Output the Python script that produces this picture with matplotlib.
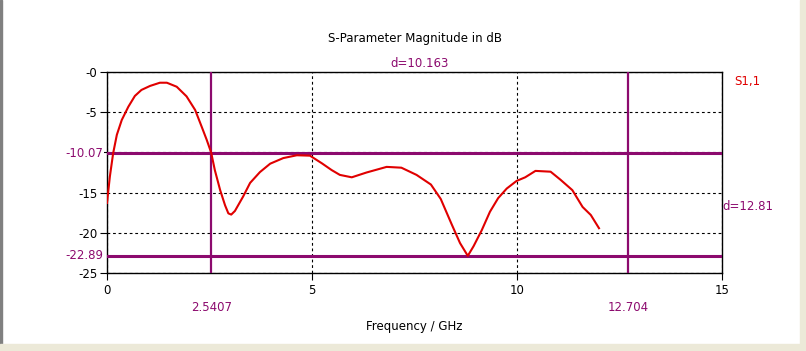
import matplotlib.pyplot as plt
from matplotlib.patches import Rectangle

# S1,1 magnitude
freq = [0.0, 0.07, 0.15, 0.24, 0.36, 0.52, 0.68, 0.84, 1.05, 1.29, 1.46, 1.70, 1.94,
        2.15, 2.31, 2.43, 2.54, 2.63, 2.76, 2.88, 2.96, 3.03, 3.12, 3.32, 3.49, 3.73, 3.98,
        4.30, 4.63, 4.95, 5.24, 5.48, 5.68, 5.97, 6.33, 6.82, 7.18, 7.55, 7.90, 8.14,
        8.41, 8.61, 8.80, 8.94, 9.14, 9.34, 9.54, 9.75, 9.99, 10.2, 10.45, 10.82,
        11.06, 11.35, 11.6, 11.8, 12.0]
s11 = [-16.3, -13.0, -10.1, -7.8, -5.95, -4.3, -2.95, -2.2, -1.7, -1.3, -1.3, -1.8, -3.0,
       -4.7, -6.8, -8.4, -10.0, -12.2, -14.7, -16.6, -17.6, -17.75, -17.3, -15.5, -13.8, -12.45, -11.4,
       -10.7, -10.35, -10.4, -11.35, -12.2, -12.8, -13.1, -12.5, -11.8, -11.9, -12.8, -14.0, -15.8,
       -19.0, -21.3, -22.9, -21.7, -19.7, -17.4, -15.7, -14.5, -13.55, -13.1, -12.3, -12.4,
       -13.4, -14.7, -16.8, -17.8, -19.45]

x_markers = [2.5407, 12.704]
y_markers = [-10.07, -22.89]
x_labels = ['2.5407', '12.704']
y_labels = ['-10.07', '-22.89']
dx_label = 'd=10.163'
dy_label = 'd=12.81'
x_ticks = [0, 5, 10, 15]
y_ticks = [0, -5, -10, -15, -20, -25]
y_tick_labels = ['-0', '-5', '-10', '-15', '-20', '-25']

purple = '#8c0a6e'
red = '#e00000'

fig = plt.figure(figsize=(8.06, 3.51), dpi=100)
fig.patch.set_facecolor('white')
ax = fig.add_axes([107 / 806, 1 - 272.7 / 351, 615 / 806, 200.4 / 351])

ax.set_xlim(0, 15)
ax.set_ylim(-25, 0)
ax.set_xticks(x_ticks)
ax.set_yticks(y_ticks)
ax.set_yticklabels(y_tick_labels)
ax.tick_params(direction='out', length=5, width=0.8, labelsize=8.5, pad=2)
ax.tick_params(axis='x', pad=3)
ax.grid(True, color='black', linestyle=(0, (2.5, 2.5)), linewidth=0.8)
for s in ax.spines.values():
    s.set_linewidth(1.0)

for xm in x_markers:
    ax.axvline(xm, color=purple, lw=1.6, zorder=3)
for ym in y_markers:
    ax.axhline(ym, color=purple, lw=2.2, zorder=3)

ax.plot(freq, s11, color=red, lw=1.5, zorder=4)

# marker annotations
for ym, lab in zip(y_markers, y_labels):
    ax.text(-0.1, ym, lab, color=purple, fontsize=8.5, ha='right', va='center',
            bbox=dict(facecolor='white', edgecolor='none', pad=0.5), clip_on=False)
for xm, lab in zip(x_markers, x_labels):
    ax.text(xm, -29.3, lab, color=purple, fontsize=8.5, ha='center', va='center', clip_on=False)
ax.text(sum(x_markers) / 2, 1.15, dx_label, color=purple,
        fontsize=8.5, ha='center', va='center', clip_on=False)
ax.text(15.0, sum(y_markers) / 2 - 0.2, dy_label, color=purple,
        fontsize=8.5, ha='left', va='center', clip_on=False)
ax.text(15.3, -1.2, 'S1,1', color=red, fontsize=8.5, ha='left', va='center', clip_on=False)

ax.set_title('S-Parameter Magnitude in dB', fontsize=8.5, pad=22)
ax.set_xlabel('Frequency / GHz', fontsize=8.5, labelpad=17)

# window frame bits
fig.patches.append(Rectangle((0, 0), 2 / 806, 1, transform=fig.transFigure, color='#808080'))
fig.patches.append(Rectangle((800 / 806, 0), 6 / 806, 1, transform=fig.transFigure, color='#ece9d8'))
fig.patches.append(Rectangle((0, 0), 1, 7 / 351, transform=fig.transFigure, color='#ece9d8'))

fig.savefig('out.png', dpi=100)
